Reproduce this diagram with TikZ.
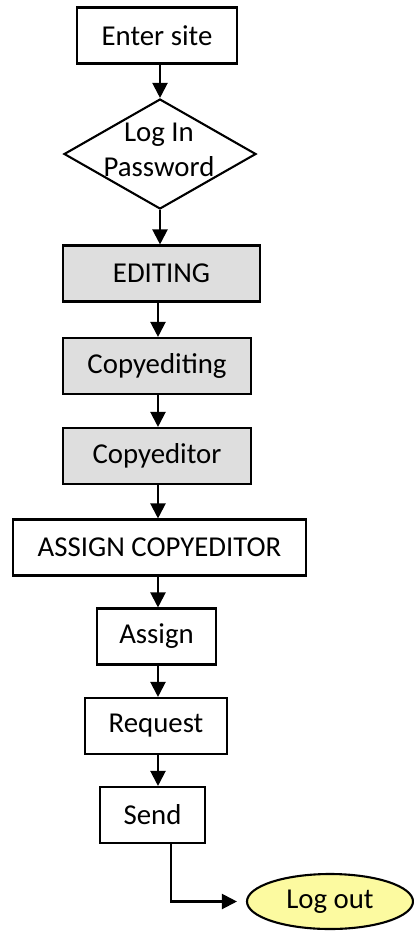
\documentclass[tikz,border=0pt]{standalone}
\usepackage{fontspec}
\setmainfont{Carlito}
\usetikzlibrary{shapes.geometric,arrows.meta}
\definecolor{boxgray}{RGB}{222,222,222}
\definecolor{lightyellow}{RGB}{252,250,160}
\begin{document}
\begin{tikzpicture}[x=1pt,y=-1pt,
  every node/.style={font=\fontsize{28.8}{35}\selectfont},
  procbox/.style={draw=black,line width=2.1pt,rectangle,minimum height=56pt,inner sep=0pt},
  graybox/.style={procbox,fill=boxgray},
  decision/.style={draw=black,line width=2.1pt,diamond,minimum width=192pt,minimum height=110pt,inner sep=0pt,aspect=1.75},
  terminal/.style={draw=black,line width=2.1pt,ellipse,fill=lightyellow,minimum width=166pt,minimum height=55pt,inner sep=0pt},
  arr/.style={line width=2.1pt,-{Triangle[width=15pt,length=15pt]}}
]
\useasboundingbox (0,0) rectangle (413,932);
\coordinate (col) at (158,0);
\coordinate (dcol) at (160,0);
\coordinate (sendcol) at (171,0);

\node[procbox,minimum width=160pt] (enter) at (157,35.5) {Enter site};
\node[decision] (login) at (160,154) {};
\node[align=center] (logintext) at (159,150) {Log In\\Password};
\node[graybox,minimum width=197pt] (editing) at (161.5,273.5) {EDITING};
\node[graybox,minimum width=188pt] (copyediting) at (157,366) {Copyediting};
\node[graybox,minimum width=188pt] (copyeditor) at (157,456) {Copyeditor};
\node[procbox,minimum width=293pt] (assigncopy) at (159.5,547.5) {ASSIGN COPYEDITOR};
\node[procbox,minimum width=119pt] (assign) at (156.5,636.5) {Assign};
\node[procbox,minimum width=142pt] (request) at (156,726) {Request};
\node[procbox,minimum width=105pt] (send) at (152.5,815) {Send};
\node[terminal] (logout) at (330,901.5) {Log out};

\draw[arr] (enter.south -| dcol) -- (login.north);
\draw[arr] (login.south) -- (editing.north -| dcol);
\draw[arr] (editing.south -| col) -- (copyediting.north -| col);
\draw[arr] (copyediting.south -| col) -- (copyeditor.north -| col);
\draw[arr] (copyeditor.south -| col) -- (assigncopy.north -| col);
\draw[arr] (assigncopy.south -| col) -- (assign.north -| col);
\draw[arr] (assign.south -| col) -- (request.north -| col);
\draw[arr] (request.south -| col) -- (send.north -| col);
\draw[arr] (send.south -| sendcol) |- ([xshift=-9pt]logout.west);
\end{tikzpicture}
\end{document}
